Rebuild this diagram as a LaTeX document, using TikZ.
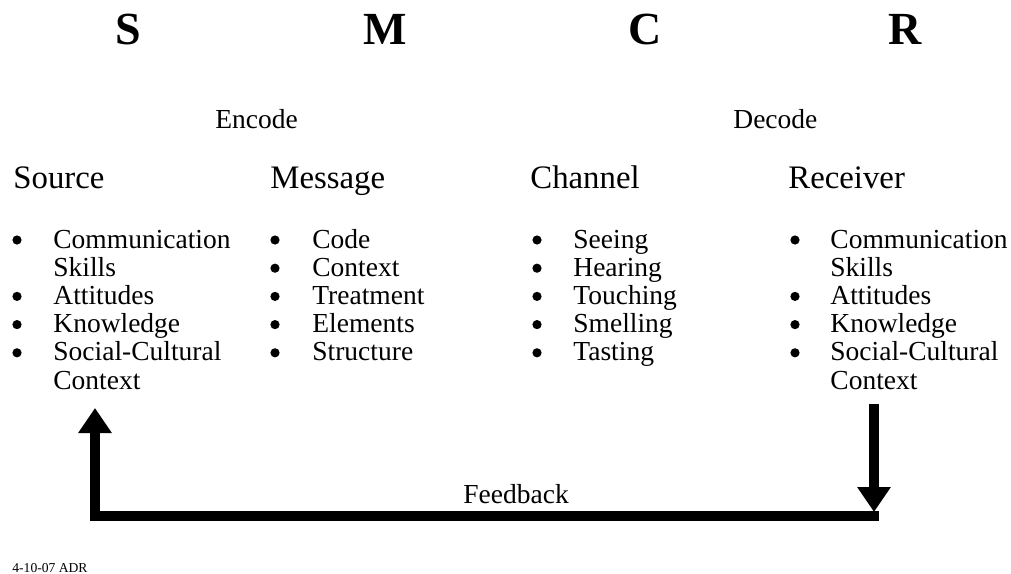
\documentclass[tikz,border=0pt]{standalone}
\usepackage{fontspec}
\setmainfont{Liberation Serif}
\usetikzlibrary{arrows.meta}

\tikzset{
	letter/.style={anchor=base, inner sep=0pt, font=\fontsize{23}{25}\selectfont\bfseries},
	head/.style={anchor=base west, inner sep=0pt, font=\fontsize{16.4}{18}\selectfont},
	txt/.style={anchor=base west, inner sep=0pt, font=\fontsize{13.75}{15}\selectfont},
	bul/.style={circle, fill, inner sep=0pt, minimum size=4.6pt},
	fb/.style={line width=5pt, -{Triangle[width=16pt,length=12.5pt]}},
}

\begin{document}
\begin{tikzpicture}[x=0.5pt,y=-0.5pt]
\useasboundingbox (0,0) rectangle (1011,573);

\node [letter] (S) at (128,44.5) {S};
\node [letter] (M) at (385,44.5) {M};
\node [letter] (C) at (645,44.5) {C};
\node [letter] (R) at (905,44.5) {R};

\node [txt] (enc) at (215,128) {Encode};
\node [txt] (dec) at (733,128) {Decode};

\node [head] (src) at (13,188) {Source};
\node [head] (msg) at (270,188) {Message};
\node [head] (chn) at (530,188) {Channel};
\node [head] (rcv) at (788,188) {Receiver};

% source
	\node [bul] (sb1) at (17,240) {};
	\node [txt] (s1) at (53,248) {Communication};
	\node [txt] (s1b) at (53,276.2) {Skills};
	\node [bul] (sb2) at (17,296.4) {};
	\node [txt] (s2) at (53,304.4) {Attitudes};
	\node [bul] (sb3) at (17,324.6) {};
	\node [txt] (s3) at (53,332.6) {Knowledge};
	\node [bul] (sb4) at (17,352.8) {};
	\node [txt] (s4) at (53,360.8) {Social-Cultural};
	\node [txt] (sctx) at (53,389) {Context};

% message
	\node [bul] (mb1) at (275,240) {};
	\node [txt] (m1) at (312,248) {Code};
	\node [bul] (mb2) at (275,268.2) {};
	\node [txt] (m2) at (312,276.2) {Context};
	\node [bul] (mb3) at (275,296.4) {};
	\node [txt] (m3) at (312,304.4) {Treatment};
	\node [bul] (mb4) at (275,324.6) {};
	\node [txt] (m4) at (312,332.6) {Elements};
	\node [bul] (mb5) at (275,352.8) {};
	\node [txt] (m5) at (312,360.8) {Structure};

% channel
	\node [bul] (cb1) at (537,240) {};
	\node [txt] (c1) at (573,248) {Seeing};
	\node [bul] (cb2) at (537,268.2) {};
	\node [txt] (c2) at (573,276.2) {Hearing};
	\node [bul] (cb3) at (537,296.4) {};
	\node [txt] (c3) at (573,304.4) {Touching};
	\node [bul] (cb4) at (537,324.6) {};
	\node [txt] (c4) at (573,332.6) {Smelling};
	\node [bul] (cb5) at (537,352.8) {};
	\node [txt] (c5) at (573,360.8) {Tasting};

% receiver
	\node [bul] (rb1) at (795,240) {};
	\node [txt] (r1) at (830,248) {Communication};
	\node [txt] (r1b) at (830,276.2) {Skills};
	\node [bul] (rb2) at (795,296.4) {};
	\node [txt] (r2) at (830,304.4) {Attitudes};
	\node [bul] (rb3) at (795,324.6) {};
	\node [txt] (r3) at (830,332.6) {Knowledge};
	\node [bul] (rb4) at (795,352.8) {};
	\node [txt] (r4) at (830,360.8) {Social-Cultural};
	\node [txt] (rctx) at (830,389) {Context};

% feedback loop
\coordinate (fbtop) at (874,404);
\coordinate (fbdown) at (874,512);
\coordinate (fbR) at (874,515.5);
\coordinate (fbL) at (95,515.5);
\coordinate (fbup) at (95,408);
\draw [fb] (fbtop) -- (fbdown);
\draw [fb, line cap=rect, line join=miter] (fbR) -- (fbL) -- (fbup);
\node [txt] (feed) at (463,503) {Feedback};

\node [anchor=base west, inner sep=0pt, font=\fontsize{6.8}{8}\selectfont] (date) at (12,572) {4-10-07 ADR};

\end{tikzpicture}
\end{document}
